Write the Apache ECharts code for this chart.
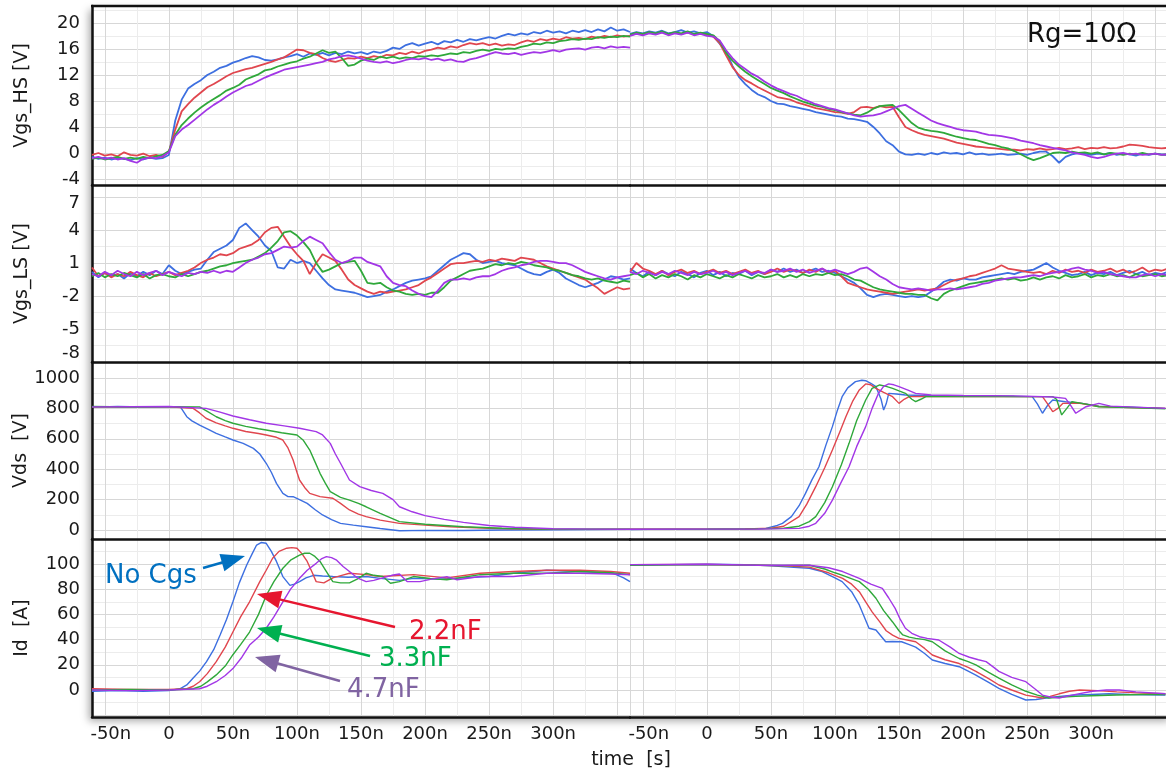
<!DOCTYPE html>
<html><head><meta charset="utf-8">
<script src="https://cdn.jsdelivr.net/npm/echarts@6/dist/echarts.min.js"></script>
<style>html,body{margin:0;padding:0;background:#fff}#c{width:1166px;height:776px}</style>
</head><body><div id="c"></div>
<script>
// time samples (ns) shared by the Vgs traces, both halves
const T = [-60,-55,-50,-45,-40,-35,-30,-25,-20,-15,-10,-5,0,
  5,10,15,20,25,30,35,40,45,50,55,60,65,70,75,80,85,90,95,100,
  105,110,115,120,125,130,135,140,145,150,155,160,165,170,175,180,185,190,195,200,
  205,210,215,220,225,230,235,240,245,250,255,260,265,270,275,280,285,290,295,300,
  305,310,315,320,325,330,335,340,345,350,355,360];

// ---- Vgs_HS, turn-on (left) ----
const hsOnB = [-0.6,-0.9,-0.7,-1.0,-0.8,-0.9,-1.1,-0.8,-1.0,-0.7,-0.9,-0.8,-0.3,
  5.0,8.2,9.9,10.6,11.2,12.0,12.5,13.1,13.4,13.9,14.2,14.6,14.9,14.7,14.3,14.2,14.4,14.7,14.9,15.2,
  14.8,15.3,15.1,15.4,15.0,15.4,15.2,15.6,15.3,15.5,15.2,15.6,15.4,15.7,16.2,16.0,16.6,16.9,16.5,16.8,
  17.1,16.7,17.2,17.0,17.4,17.1,17.5,17.3,17.6,17.8,17.6,18.0,18.3,18.1,18.4,18.2,18.6,18.4,18.8,18.5,
  18.7,18.4,18.8,18.6,18.9,18.6,19.0,18.7,19.3,18.8,19.0,18.6];
const hsOnR = [-0.3,0.0,-0.4,-0.2,-0.5,0.1,-0.3,-0.4,-0.1,-0.5,-0.3,-0.6,0.2,
  3.6,6.4,7.5,8.5,9.3,10.1,10.6,11.2,11.8,12.3,12.6,12.9,13.1,13.4,13.7,14.0,14.4,14.7,15.3,15.9,
  15.8,15.4,15.2,14.6,14.2,14.0,14.3,14.6,14.5,14.8,14.6,14.9,14.7,15.1,15.0,15.4,15.2,15.6,15.3,15.7,
  15.9,16.2,16.0,16.4,16.2,16.6,16.9,16.7,16.9,16.6,16.8,16.5,16.7,16.6,17.0,17.3,17.1,17.5,17.3,17.6,
  17.4,17.8,17.6,17.7,17.5,17.9,17.7,18.0,17.8,18.1,17.9,18.0];
const hsOnG = [-0.9,-0.7,-1.0,-0.8,-0.6,-0.9,-0.7,-0.9,-0.6,-0.8,-0.5,-0.3,0.3,
  2.8,4.3,5.3,6.2,7.0,7.7,8.3,8.9,9.6,10.0,10.5,11.3,11.7,12.1,12.7,12.9,13.3,13.6,13.9,14.1,
  14.5,14.8,15.3,15.8,15.4,15.6,14.6,13.4,13.6,14.2,14.5,14.3,14.8,14.6,14.8,14.5,14.7,14.6,14.9,14.8,
  15.0,14.9,15.1,15.3,15.2,15.5,15.4,15.7,15.9,15.7,16.0,15.9,16.1,16.0,16.3,16.5,16.8,16.7,17.0,16.9,
  17.2,17.3,17.5,17.4,17.6,17.5,17.8,17.7,17.9,17.8,18.0,17.9];
const hsOnP = [-0.8,-0.6,-0.9,-0.7,-1.0,-0.8,-1.2,-1.5,-0.9,-0.7,-0.8,-0.5,0.1,
  2.6,3.6,4.3,5.1,5.9,6.7,7.4,8.0,8.7,9.3,9.8,10.3,10.6,11.1,11.6,12.0,12.4,12.8,13.0,13.2,
  13.4,13.6,13.8,14.0,14.4,14.6,14.9,15.0,14.8,14.5,14.2,14.0,13.9,14.1,13.8,14.0,14.3,14.5,14.4,14.6,
  14.3,14.5,14.2,14.4,14.1,14.0,14.4,14.6,14.9,15.2,15.5,15.3,15.2,15.4,15.1,15.3,15.5,15.4,15.6,15.8,
  15.6,15.9,16.0,16.1,15.9,16.2,16.3,16.1,16.4,16.2,16.3,16.2];

// ---- Vgs_HS, turn-off (right) ----
const hsOffB = [18.3,18.6,18.4,18.7,18.5,18.8,18.4,18.6,18.9,18.5,18.7,18.4,18.6,
  18.0,16.8,15.6,13.4,11.7,10.6,9.7,9.0,8.6,8.0,7.6,7.5,7.2,7.0,6.8,6.6,6.3,6.1,5.9,5.7,
  5.6,5.3,5.2,5.0,4.8,4.0,3.0,1.8,1.2,0.2,-0.2,-0.3,-0.1,-0.3,0.0,-0.2,0.1,-0.1,0.0,-0.2,
  0.1,-0.2,-0.1,-0.3,-0.2,-0.1,-0.3,-0.2,-0.1,-0.3,0.0,0.2,0.2,-0.5,-1.5,-0.6,-0.2,0.0,-0.1,-0.3,
  -0.1,-0.2,0.0,-0.3,-0.1,-0.2,-0.4,-0.1,-0.3,-0.1,-0.2,-0.3];
const hsOffR = [18.1,18.4,18.2,18.5,18.3,18.6,18.2,18.5,18.3,18.6,18.2,18.4,18.2,
  17.9,16.9,15.0,13.2,12.0,11.2,10.7,10.1,9.6,9.1,8.6,8.4,8.2,7.8,7.5,7.2,6.9,6.7,6.5,6.3,
  6.2,6.0,6.3,7.0,7.1,6.9,7.2,7.0,7.1,5.5,4.0,3.5,3.1,2.8,2.6,2.4,2.2,1.9,1.6,1.4,
  1.2,1.0,0.9,0.8,0.7,0.6,0.5,0.5,0.4,0.6,0.5,0.7,0.5,0.6,0.8,0.6,0.7,0.9,0.6,0.8,
  0.7,0.9,0.7,0.8,1.0,1.3,1.2,1.1,0.9,0.8,0.7,0.8];
const hsOffG = [18.2,18.5,18.3,18.6,18.4,18.7,18.3,18.6,18.4,18.7,18.3,18.5,18.3,
  18.1,17.2,15.4,14.2,13.3,12.5,11.8,11.2,10.6,10.0,9.6,9.2,8.7,8.3,7.9,7.6,7.3,7.1,6.8,6.6,
  6.3,6.1,5.9,5.8,6.2,6.8,7.2,7.3,7.4,6.6,5.6,4.6,3.9,3.6,3.4,3.3,3.1,2.8,2.5,2.3,
  2.1,2.0,1.7,1.4,1.2,0.9,0.7,0.3,-0.2,-0.7,-1.1,-0.8,-0.4,0.0,0.1,0.0,0.2,0.0,0.1,-0.1,
  0.1,-0.2,0.0,-0.1,-0.3,-0.1,-0.2,0.0,-0.2,-0.1,-0.3,-0.2];
const hsOffP = [18.0,18.3,18.1,18.4,18.2,18.5,18.1,18.4,18.2,18.5,18.1,18.3,18.0,
  17.9,17.3,15.8,14.6,13.6,12.9,12.2,11.7,11.0,10.4,9.9,9.5,9.1,8.8,8.3,7.9,7.5,7.2,6.9,6.7,
  6.4,6.1,5.8,5.6,5.7,5.8,6.0,6.4,6.8,7.2,7.4,6.8,6.2,5.6,5.0,4.6,4.3,4.0,3.7,3.5,
  3.4,3.3,3.0,2.8,2.7,2.6,2.4,2.2,1.9,1.7,1.5,1.2,1.0,0.8,0.6,0.4,0.1,-0.1,-0.3,-0.6,
  -0.8,-0.6,-0.3,-0.1,0.0,-0.2,-0.1,-0.3,-0.2,-0.1,-0.3,-0.2];

// ---- Vgs_LS, turn-on (left) ----
const lsOnB = [0.2,-0.3,0.1,-0.2,0.0,-0.4,0.1,-0.2,0.2,-0.1,0.3,0.0,0.8,
  0.3,0.0,0.2,0.4,0.5,1.3,2.0,2.3,2.6,3.1,4.2,4.6,4.0,3.4,2.6,2.1,0.6,0.5,1.3,1.0,
  1.2,1.0,0.3,-0.4,-1.0,-1.4,-1.5,-1.6,-1.7,-1.9,-2.1,-2.0,-1.9,-1.6,-1.4,-1.1,-0.8,-0.6,-0.5,-0.4,
  -0.2,0.3,0.8,1.3,1.6,1.9,1.8,1.3,1.0,1.1,1.2,1.0,0.9,0.8,0.5,0.2,0.0,-0.1,0.2,0.4,
  0.1,-0.4,-0.7,-1.0,-1.2,-1.0,-0.8,-0.5,-0.2,-0.3,-0.5,-0.4];
const lsOnR = [0.6,-0.2,0.1,-0.3,0.0,-0.2,0.2,-0.1,-0.3,0.1,-0.2,0.0,0.2,
  -0.1,0.1,0.3,0.6,1.0,1.3,1.5,1.8,1.7,1.9,2.3,2.5,2.7,3.1,3.8,4.2,4.3,3.4,2.5,1.8,
  1.2,0.0,1.0,1.8,1.5,1.2,0.4,-0.5,-1.0,-1.3,-1.6,-1.8,-1.6,-1.7,-1.6,-1.5,-1.4,-1.2,-1.0,-0.6,
  -0.3,0.1,0.5,0.9,1.0,1.0,1.1,1.2,1.1,1.3,1.2,1.4,1.3,1.2,1.5,1.4,1.3,1.0,0.7,0.5,
  0.3,0.1,-0.1,-0.3,-0.5,-0.9,-1.3,-1.8,-1.5,-1.2,-1.4,-1.3];
const lsOnG = [-0.2,0.1,-0.3,0.0,-0.2,0.1,-0.1,-0.3,0.0,-0.4,-0.1,0.0,-0.2,
  -0.3,0.0,-0.2,0.0,0.2,0.3,0.5,0.7,0.8,1.0,1.1,1.2,1.3,1.6,1.9,2.4,3.0,3.8,3.9,3.5,
  2.9,2.2,1.0,0.2,0.4,0.7,1.0,1.1,1.2,0.3,-0.8,-0.9,-0.8,-1.2,-1.5,-1.6,-1.8,-1.9,-1.8,-1.9,
  -1.7,-1.7,-1.2,-0.6,-0.3,0.0,0.3,0.4,0.5,0.7,0.9,0.8,1.0,0.9,1.1,1.0,0.8,0.7,0.6,0.4,
  0.3,0.1,-0.1,-0.2,-0.4,-0.5,-0.4,-0.6,-0.7,-0.8,-0.6,-0.7];
const lsOnP = [0.0,-0.2,0.2,-0.1,0.3,0.0,-0.2,0.2,-0.1,0.1,0.3,-0.1,0.2,
  0.0,-0.2,0.1,0.0,0.2,0.1,0.3,0.1,0.3,0.2,0.6,1.0,1.3,1.5,1.8,1.9,2.2,2.5,2.4,2.5,
  3.0,3.4,3.1,2.8,2.0,1.3,1.0,1.2,1.5,1.5,1.1,0.9,0.7,-0.2,-0.8,-1.0,-1.1,-1.5,-1.8,-2.0,
  -2.1,-1.5,-0.8,-0.5,-0.5,-0.4,-0.5,-0.3,-0.2,-0.2,0.0,0.3,0.5,0.6,0.8,0.9,1.1,1.2,1.2,1.1,
  1.0,1.0,0.8,0.5,0.2,0.0,-0.2,-0.4,-0.5,-0.3,-0.2,-0.1];

// ---- Vgs_LS, turn-off (right) ----
const lsOffB = [0.5,0.1,-0.2,0.2,-0.1,0.3,0.0,-0.2,0.2,0.0,-0.3,0.1,0.3,
  -0.1,0.2,-0.2,0.1,0.0,0.3,-0.1,0.2,0.0,0.4,0.2,0.5,0.2,0.4,0.1,0.3,0.5,0.2,0.3,0.1,
  -0.2,-0.5,-0.8,-1.3,-1.9,-2.1,-1.9,-1.8,-1.9,-2.0,-2.1,-2.0,-2.1,-2.0,-1.6,-1.2,-0.7,-0.5,-0.6,-0.4,
  -0.5,-0.5,-0.3,-0.2,-0.1,0.0,0.1,0.0,0.2,0.3,0.4,0.7,1.0,0.6,0.3,0.1,-0.1,0.0,0.2,-0.1,
  0.1,0.0,0.2,-0.1,0.1,0.3,0.0,0.2,-0.1,0.1,0.0,0.2];
const lsOffR = [0.2,1.0,0.5,0.3,0.0,0.3,-0.1,0.2,0.4,0.1,0.3,0.0,0.2,
  0.4,0.1,0.3,0.0,0.2,0.4,0.1,0.3,0.0,0.2,0.5,0.2,0.4,0.3,0.1,0.4,0.2,0.5,0.1,0.3,
  -0.2,-0.8,-1.0,-1.2,-1.4,-1.5,-1.6,-1.7,-1.8,-1.7,-1.6,-1.5,-1.4,-1.5,-1.4,-1.3,-1.0,-0.7,-0.5,-0.4,
  -0.2,-0.1,0.1,0.3,0.5,0.8,0.5,0.4,0.3,0.2,0.1,0.2,0.0,0.3,0.1,0.4,0.2,0.3,0.1,0.4,
  0.2,0.3,0.5,0.2,0.4,0.1,0.3,0.6,0.2,0.4,0.3,0.5];
const lsOffG = [-0.1,0.1,-0.3,0.0,-0.4,-0.1,-0.3,0.0,-0.2,-0.5,-0.1,-0.3,0.0,
  -0.2,-0.4,-0.1,-0.3,0.0,-0.2,-0.4,-0.1,-0.3,-0.2,0.0,-0.3,-0.1,-0.3,0.0,-0.2,0.0,-0.1,0.1,-0.1,
  0.0,-0.2,-0.5,-0.6,-0.9,-1.2,-1.4,-1.5,-1.6,-1.7,-1.8,-1.8,-1.9,-1.9,-2.2,-2.4,-1.8,-1.5,-1.3,-1.1,
  -0.9,-0.8,-0.7,-0.6,-0.5,-0.4,-0.5,-0.4,-0.6,-0.5,-0.3,-0.5,-0.3,-0.2,-0.4,-0.1,-0.3,-0.2,0.0,-0.3,
  -0.1,-0.2,0.0,-0.2,-0.1,-0.3,0.0,-0.2,-0.1,0.0,-0.2,-0.1];
const lsOffP = [0.2,0.0,0.3,0.1,-0.1,0.2,0.0,0.3,0.1,-0.1,0.2,0.0,0.1,
  0.3,0.0,0.2,-0.1,0.1,0.3,0.0,0.2,0.1,0.4,0.2,0.3,0.5,0.2,0.4,0.1,0.3,0.5,0.2,0.4,
  0.2,0.0,0.2,0.5,0.6,0.2,-0.2,-0.5,-0.9,-1.2,-1.3,-1.4,-1.3,-1.4,-1.5,-1.4,-1.4,-1.3,-1.4,-1.3,
  -1.2,-1.1,-0.9,-0.8,-0.6,-0.5,-0.4,-0.3,-0.3,-0.2,-0.1,-0.2,0.0,0.1,0.2,0.3,0.5,0.6,0.4,0.3,
  0.1,0.2,0.0,-0.1,-0.2,-0.3,-0.3,-0.1,0.0,-0.2,0.0,-0.1];

// ---- Vds [t(ns), V] ----
const vdsOnB = [[-60,808],[-40,812],[-20,809],[0,811],[9,810],[14,745],[18,718],[24,690],[30,665],[37,636],[44,612],[50,592],[58,570],[66,537],[71,500],[76,439],[80,380],[84,307],[89,241],[93,220],[97,219],[102,200],[108,175],[114,135],[120,99],[127,68],[134,44],[144,32],[154,22],[165,10],[180,-5],[200,-2],[230,-3],[260,0],[300,2],[330,3],[360,4]];
const vdsOnR = [[-60,810],[-30,811],[0,810],[19,800],[24,770],[29,735],[37,705],[44,685],[50,669],[60,648],[70,635],[76,625],[84,610],[89,592],[93,540],[97,460],[100,380],[102,329],[106,280],[110,241],[118,220],[128,209],[134,175],[141,132],[148,105],[154,88],[165,65],[180,44],[200,32],[220,22],[250,12],[280,6],[320,4],[360,5]];
const vdsOnG = [[-60,812],[-30,809],[0,811],[24,810],[30,780],[37,745],[44,720],[50,702],[60,682],[70,666],[76,658],[88,640],[100,625],[105,590],[110,526],[114,450],[118,373],[122,310],[126,252],[134,215],[141,197],[148,175],[154,153],[165,110],[180,55],[200,38],[230,22],[260,12],[290,7],[320,5],[360,6]];
const vdsOnP = [[-60,810],[0,812],[29,800],[40,775],[50,750],[63,725],[76,702],[90,685],[102,669],[115,647],[120,625],[126,570],[130,500],[134,439],[141,329],[149,285],[158,260],[167,241],[175,200],[180,153],[190,120],[200,95],[215,70],[230,50],[250,30],[270,18],[300,8],[330,6],[360,5]];
const vdsOffB = [[-60,3],[-30,6],[0,5],[30,8],[46,11],[55,30],[59,44],[66,88],[72,160],[77,241],[82,330],[87.5,416],[93,560],[98,680],[102,790],[105.6,877],[110,935],[116,976],[121,985],[124,982],[128,965],[132,943],[136,860],[138,789],[140,830],[142,899],[148,895],[155,888],[170,885],[200,882],[230,880],[254,877],[258,830],[262,768],[266,820],[270,855],[280,844],[293,833],[306,815],[330,808],[358,800]];
const vdsOffR = [[-60,5],[0,6],[30,7],[50,12],[60,25],[72,88],[78,170],[85,285],[92,410],[98,526],[104,650],[108.5,745],[114,850],[119,921],[124,961],[128,955],[132,932],[138,905],[145,877],[150,833],[154,860],[158,877],[170,878],[200,880],[230,878],[262,877],[266,830],[270,778],[274,800],[278,833],[290,835],[306,812],[330,806],[358,800]];
const vdsOffG = [[-60,4],[0,5],[30,6],[60,12],[72,25],[80,55],[85,88],[92,180],[98,285],[105,430],[111,570],[117,720],[124,855],[129,932],[135,954],[140,945],[145,932],[150,915],[155,899],[160,860],[163,844],[167,860],[171,877],[200,880],[240,878],[270,877],[273,860],[277,757],[281,800],[285,844],[295,830],[306,811],[330,806],[358,798]];
const vdsOffP = [[-60,5],[0,6],[40,7],[60,9],[72,11],[80,25],[85,44],[92,110],[98,197],[104,300],[111,416],[117,550],[124,680],[129,800],[134,899],[138,945],[142,961],[146,955],[150,943],[157,920],[163,899],[175,888],[200,885],[240,882],[270,875],[280,866],[284,820],[288,768],[292,790],[296,811],[306,833],[315,815],[335,808],[358,800]];

// ---- Id [t(ns), A] ----
const idOnB = [[-60,-1],[-40,-0.5],[-20,-1],[0,-0.5],[8.6,1],[14,4],[19,9.5],[24,15],[29.4,22.5],[35,32],[40,43.7],[45,56],[50,70],[55,85],[60.7,99],[65,108],[68.5,115],[72,117],[76,116.4],[80,110],[84,102],[89,90],[94.5,83],[98,84],[102,86],[107,89],[113,91],[120,90.5],[128,90],[140,89.5],[154,90],[165,88.6],[180,87],[191,88.6],[210,88],[230,89],[250,90],[269,92.6],[295,95],[321,94],[347,92.6],[355,89],[360,86]];
const idOnR = [[-60,1],[-30,0.5],[0,0.5],[14,1],[19,3],[24,6.6],[30,13],[37,22.5],[44,34],[50,46],[56,58],[63,70],[71,86],[76,95],[81,104.5],[86,110],[92,112.5],[96,113],[100,112.5],[104,108],[108,102],[112,93],[115,86],[121,85],[128,89],[135,91],[141,92.6],[154,91.5],[165,90],[191,91.5],[217,89],[243,92.6],[269,94],[295,95],[321,95],[345,94],[360,92.6]];
const idOnG = [[-60,0],[-30,0.5],[0,0],[19,1],[25,3],[30,6.5],[37,12],[44,19],[50,28],[56,36],[63,46],[70,60],[76,75],[82,86],[89,96.6],[95,103],[102,107],[106,108.5],[110,108.5],[114,106],[118,102],[123,94],[128,86],[134,85],[141,85],[147,88],[154,92.6],[160,91],[167,90],[173,84.7],[180,86],[191,90],[204,88.5],[217,87.5],[243,91.5],[269,92.6],[295,92.6],[321,94],[345,93],[360,91.5]];
const idOnP = [[-60,0],[-30,-0.5],[0,0],[24,1],[30,3],[37,6.6],[44,11.5],[50,17],[57,26],[63,35.7],[70,42],[76,49],[82,58],[89,70],[95,80],[102,88.6],[108,95],[115,100.5],[119,104],[123,105.8],[127,105],[131,103],[136,98],[141,94],[147,89],[154,86],[160,87],[167,89],[174,91],[180,92],[186,86],[196,86],[205,88],[217,90],[225,87.5],[243,90],[269,90],[295,92.6],[321,92.6],[345,92],[360,91.5]];
const idOffB = [[-60,99],[-30,99.5],[0,99.8],[30,99.5],[50,98.5],[65,97.5],[80,96.6],[90,94],[100,89],[105.6,86],[113,78],[119,67.5],[126.6,49],[132,47.6],[139.6,38.3],[145,38.5],[152,38.3],[158,36],[163,34],[170,29],[176,23.8],[186,21],[197,18.5],[204,15],[210,11.9],[220,6],[228,1.3],[238,-3.5],[249,-7.9],[257,-7.5],[265,-6.3],[275,-5],[288,-4],[300,-3.5],[314,-3],[330,-3.5],[358,-4]];
const idOffR = [[-60,99.5],[0,99.6],[40,99],[60,98.5],[80,97.5],[95,93],[106,88.6],[113,84],[119,78],[124,70],[129,62],[135,54],[140,47],[145,43.5],[150,41],[163,38.3],[170,33],[176,27.8],[186,24],[197,21],[204,18],[210,14.8],[220,9],[228,4],[238,0],[249,-4],[262,-6.3],[268,-5],[275,-3],[283,-1],[291,0],[305,-0.5],[320,-1.5],[340,-2.5],[358,-3]];
const idOffG = [[-60,99],[0,99.5],[40,99],[60,98.8],[80,99],[92,96],[100,93],[106,91],[119,86],[126,80],[132,72.8],[138,63],[145,54],[150,47],[153,43.7],[158,42],[163,41],[170,40],[176,38.3],[186,31],[197,25],[204,22.5],[210,20],[220,14],[228,9.5],[238,4],[249,-1],[258,-4],[267,-6.3],[277,-5.5],[288,-5],[300,-4.5],[320,-4],[340,-3.5],[358,-3.5]];
const idOffP = [[-60,99.5],[0,99.8],[40,99],[60,99],[80,99],[95,97],[106,94],[119,88.6],[128,84],[137,80.7],[142,73],[147,64.8],[151,56],[155,49],[160,45],[166,42.3],[172,41],[181,39.7],[190,34],[197,29],[205,26],[212,24],[218,22.5],[224,18],[228,14.8],[238,10],[249,6.6],[256,1],[262,-4],[268,-5.5],[275,-6.3],[285,-4],[301,-1],[312,0],[322,0],[335,-1.5],[358,-3]];

// axis / label texts
const yNames = ['Vgs_HS [V]', 'Vgs_LS [V]', 'Vds  [V]', 'Id  [A]'];
const xLabelTicks = [-50, 0, 50, 100, 150, 200, 250, 300];
const annotations = ['No Cgs', '2.2nF', '3.3nF', '4.7nF'];

// ------------------------------------------------------------------
const COLORS = ['#3d6fe0', '#e0464e', '#2fa83a', '#a236e6'];
const FONT = 'DejaVu Sans';
const uni = a => T.map((t, i) => [t, a[i]]);
const rowsData = [
  [[hsOnB, hsOnR, hsOnG, hsOnP].map(uni), [hsOffB, hsOffR, hsOffG, hsOffP].map(uni)],
  [[lsOnB, lsOnR, lsOnG, lsOnP].map(uni), [lsOffB, lsOffR, lsOffG, lsOffP].map(uni)],
  [[vdsOnB, vdsOnR, vdsOnG, vdsOnP], [vdsOffB, vdsOffR, vdsOffG, vdsOffP]],
  [[idOnB, idOnR, idOnG, idOnP], [idOffB, idOffR, idOffG, idOffP]]
];
const rows = [
  {top: 6, h: 179, min: -4.92, max: 22.6, step: 4, base: 0, lw: 1.8},
  {top: 185, h: 177, min: -8, max: 8.1, step: 3, base: -8, fixed: true, lw: 1.8},
  {top: 362, h: 177, min: -59, max: 1105, step: 200, base: 0, lw: 1.4},
  {top: 539, h: 178, min: -21.4, max: 119.8, step: 20, base: 0, hideNeg: true, lw: 1.4}
];
const halves = [{left: 92, width: 538}, {left: 630, width: 538}];

const grid = [], xAxis = [], yAxis = [], series = [];
rows.forEach((r, ri) => {
  halves.forEach((h, hi) => {
    const gi = ri * 2 + hi;
    grid.push({left: h.left, top: r.top, width: h.width, height: r.h, containLabel: false, outerBoundsMode: 'none'});
    const showX = ri === 3;
    xAxis.push({
      type: 'value', gridIndex: gi, min: -60, max: 360, minInterval: 50, maxInterval: 50,
      axisLine: {show: true, onZero: false, lineStyle: {color: '#111', width: 2.5}},
      axisTick: {show: false},
      splitLine: {show: true, lineStyle: {color: '#d7d7d7', width: 1}},
      minorTick: {show: false, splitNumber: 2},
      minorSplitLine: {show: true, lineStyle: {color: '#ececec', width: 1}},
      axisLabel: {
        show: showX, margin: 8, fontSize: 18, color: '#1a1a1a', fontFamily: FONT,
        showMinLabel: true, showMaxLabel: false,
        formatter: v => {
          if (xLabelTicks.indexOf(Math.round(v)) < 0 || Math.abs(v - Math.round(v)) > 1e-6) return '';
          if (v === -50) return '{s|-50n}';
          return v === 0 ? '0' : v + 'n';
        },
        rich: {s: {padding: [0, 0, 0, 12], fontSize: 18, fontFamily: FONT, color: '#1a1a1a'}}
      }
    });
    const ya = {
      type: 'value', gridIndex: gi, min: r.min, max: r.max,
      axisLine: {show: hi === 0, onZero: false, lineStyle: {color: '#111', width: 2.5}},
      axisTick: {show: false},
      splitLine: {show: true, lineStyle: {color: '#d7d7d7', width: 1}},
      minorTick: {show: false, splitNumber: 2},
      minorSplitLine: {show: true, lineStyle: {color: '#ececec', width: 1}},
      axisLabel: {
        show: hi === 0, margin: 12, fontSize: 18, color: '#1a1a1a', fontFamily: FONT,
        showMinLabel: true, showMaxLabel: true,
        formatter: v => {
          const k = (v - r.base) / r.step;
          if (Math.abs(k - Math.round(k)) > 1e-6) return '';
          const val = Math.round(v);
          if (r.hideNeg && val < 0) return '';
          if (ri === 1 && val === 7) return '{d|7}';
          if (ri === 1 && val === -8) return '{u|-8}';
          return String(val);
        },
        rich: {
          d: {padding: [12, 0, 0, 0], fontSize: 18, fontFamily: FONT, color: '#1a1a1a'},
          u: {padding: [0, 0, 18, 0], fontSize: 18, fontFamily: FONT, color: '#1a1a1a'}
        }
      }
    };
    if (r.fixed) ya.interval = r.step; else { ya.minInterval = r.step; ya.maxInterval = r.step; }
    if (hi === 0) {
      ya.name = yNames[ri]; ya.nameLocation = 'middle'; ya.nameGap = 60;
      ya.nameTextStyle = {fontSize: 19, color: '#1a1a1a', fontFamily: FONT};
    }
    yAxis.push(ya);
    rowsData[ri][hi].forEach((d, k) => {
      series.push({
        type: 'line', xAxisIndex: gi, yAxisIndex: gi, data: d,
        symbol: 'none', showSymbol: false, silent: true, clip: true,
        lineStyle: {width: r.lw, color: COLORS[k]}, itemStyle: {color: COLORS[k]},
        z: 3 + k
      });
    });
  });
});

function arrow(x1, y1, x2, y2, color) {
  const dx = x2 - x1, dy = y2 - y1, L = Math.hypot(dx, dy), ux = dx / L, uy = dy / L;
  const hl = 24, hw = 9, bx = x2 - ux * hl, by = y2 - uy * hl;
  return [
    {type: 'line', silent: true, z: 100, shape: {x1, y1, x2: bx + ux * 3, y2: by + uy * 3}, style: {stroke: color, lineWidth: 2.5}},
    {type: 'polygon', silent: true, z: 100, shape: {points: [[x2, y2], [bx - uy * hw, by + ux * hw], [bx + uy * hw, by - ux * hw]]}, style: {fill: color}}
  ];
}
function txt(x, y, s, color, size, align) {
  return {type: 'text', x, y, z: 100, silent: true,
    style: {text: s, fill: color, font: size + 'px "' + FONT + '"', textAlign: align || 'left', textVerticalAlign: 'middle', verticalAlign: 'middle'}};
}
const graphic = [
  {type: 'rect', z: -10, silent: true, shape: {x: 92, y: 6, width: 1080, height: 711},
   style: {fill: '#fff', shadowBlur: 8, shadowColor: 'rgba(0,0,0,0.35)', shadowOffsetX: -3, shadowOffsetY: 4}},
  {type: 'line', z: 50, silent: true, shape: {x1: 91, y1: 6, x2: 1170, y2: 6}, style: {stroke: '#111', lineWidth: 2.5}},
  txt(1027, 35, 'Rg=10Ω', '#111', 26),
  txt(105, 576, annotations[0], '#0070c0', 26),
  txt(409, 632, annotations[1], '#e6162f', 26),
  txt(379, 659, annotations[2], '#00b050', 26),
  txt(347, 690, annotations[3], '#8064a2', 26),
  txt(631, 760, 'time  [s]', '#1a1a1a', 19, 'center'),
  ...arrow(203, 568, 245, 556, '#0070c0'),
  ...arrow(395, 627, 257, 594, '#e6162f'),
  ...arrow(370, 656, 257, 628, '#00b050'),
  ...arrow(340, 681, 255, 657, '#8064a2')
];

const chart = echarts.init(document.getElementById('c'), null, {renderer: 'canvas'});
chart.setOption({
  animation: false, backgroundColor: '#fff',
  textStyle: {fontFamily: FONT},
  grid, xAxis, yAxis, series, graphic
});
</script></body></html>
